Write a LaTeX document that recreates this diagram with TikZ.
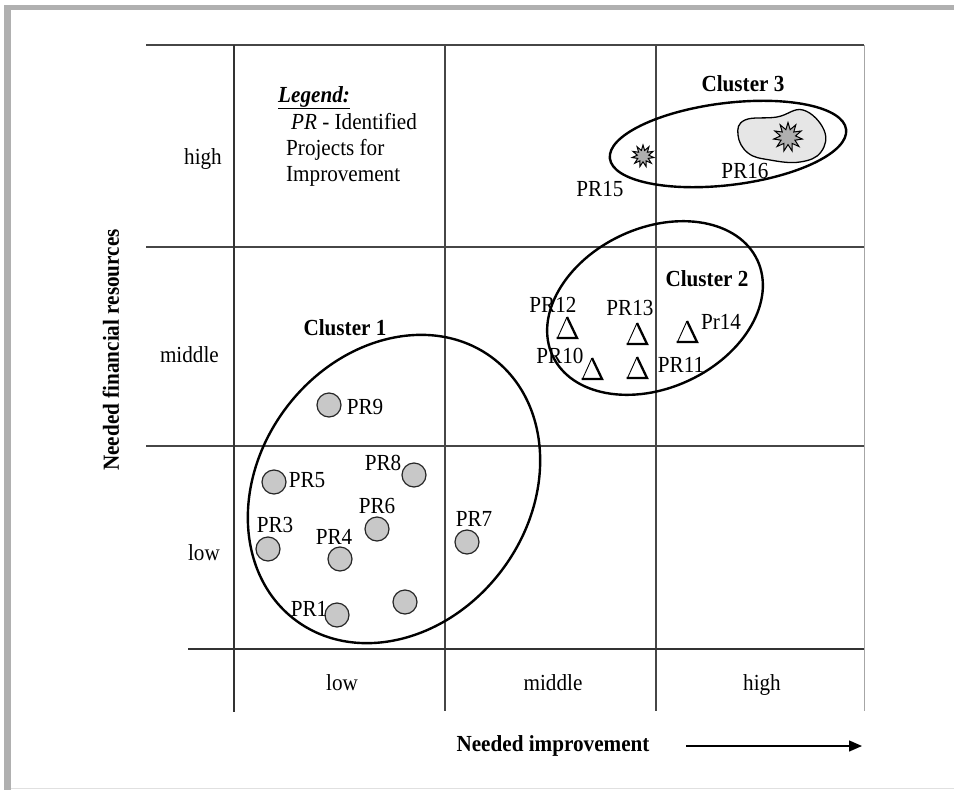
\documentclass[tikz,border=0pt]{standalone}
\usepackage{fontspec}
\setmainfont[FakeStretch=0.92]{Liberation Serif}
\usetikzlibrary{arrows.meta,shapes.geometric}
\definecolor{framegray}{RGB}{176,176,176}
\definecolor{gridgray}{RGB}{70,70,70}
\definecolor{dotfill}{RGB}{200,200,200}
\definecolor{blobfill}{RGB}{230,230,230}
\definecolor{starfill}{RGB}{175,175,175}
\begin{document}
\begin{tikzpicture}[x=1pt,y=-1pt,
  every node/.style={font=\fontsize{23}{27}\selectfont, inner sep=0pt},
  gridline/.style={draw=gridgray, line width=1.3pt},
  axisline/.style={draw=black!80, line width=2.2pt},
  cluster/.style={draw=black, line width=2.4pt},
  project/.style={circle, fill=dotfill, draw=black!85, line width=1.2pt, minimum size=24pt},
  burst/.style={star, star points=11, star point ratio=1.9, fill=starfill, draw=black, line width=1pt},
  lbl/.style={},
  clusterlbl/.style={font=\fontsize{23}{27}\selectfont\bfseries},
  axistitle/.style={font=\fontsize{23}{27}\selectfont\bfseries},
  deltamark/.pic={
    \draw[line width=0.9pt] (-9.5,10) -- (0,-11);
    \draw[line width=2.3pt, line join=miter] (0,-11) -- (10,10) -- (-10.5,10);
  }]
\useasboundingbox (0,0) rectangle (954,790);

% page frame
\fill[framegray] (4,5) rectangle (954,10);
\fill[framegray] (4,5) rectangle (11,790);
\draw[black!12, line width=0.8pt] (11,788.5) -- (954,788.5);

% grid
\draw[gridline] (146,247) -- (864,247);
\draw[gridline] (146,446) -- (864,446);
\draw[gridline] (445,45) -- (445,711);
\draw[gridline] (656,45) -- (656,711);
\draw[draw=black!35, line width=1pt] (864,45) -- (864,711);
\draw[draw=gridgray, line width=2.2pt] (146,45) -- (864,45);
\draw[axisline] (234,45) -- (234,712);
\draw[axisline] (188,649) -- (864,649);

% scale labels
\node[anchor=base east] (rhigh) at (222,164) {high};
\node[anchor=base east] (rmid) at (219,362) {middle};
\node[anchor=base east] (rlow) at (220,560) {low};
\node[anchor=base] (clow) at (342,690) {low};
\node[anchor=base] (cmid) at (553,690) {middle};
\node[anchor=base] (chigh) at (762,690) {high};

% axis titles
\node[axistitle, rotate=90] (ytitle) at (111,350) {Needed financial resources};
\node[axistitle] (xtitle) at (553,746) {Needed improvement};
\coordinate (arrowstart) at (686,746);
\coordinate (arrowend) at (862,746);
\draw[line width=1.4pt, -{Triangle[length=13pt,width=11pt]}] (arrowstart) -- (arrowend);

% legend
\node[anchor=base west] (leg1) at (278,102) {\underline{\textbf{\textit{Legend:}}}};
\node[anchor=base west] (leg2) at (291,129) {\textit{PR} - Identified};
\node[anchor=base west] (leg3) at (286,155) {Projects for};
\node[anchor=base west] (leg4) at (286,181) {Improvement};

% cluster 3
\draw[cluster, rotate around={7:(728,144)}] (728,144) ellipse [x radius=119, y radius=41];
\draw[fill=blobfill, draw=black, line width=1.3pt]
  plot[smooth cycle, tension=0.7] coordinates {(738,135) (745,120) (777,117) (803,110) (824,130) (821,152) (800,162) (770,160) (748,153)};
\node[burst, minimum size=22pt] (s15) at (643,156) {};
\node[burst, minimum size=29pt] (s16) at (788,137) {};
\node[lbl] (l15) at (600,189) {PR15};
\node[lbl] (l16) at (745,171) {PR16};
\node[clusterlbl] (c3) at (743,84) {Cluster 3};

% cluster 2
\draw[cluster, rotate around={25:(655,308)}] (655,308) ellipse [x radius=113, y radius=80];
\node[clusterlbl] (c2) at (707,279) {Cluster 2};
\pic (t12) at (567,328) {deltamark};
\pic (t13) at (637,334) {deltamark};
\pic (t14) at (687,332) {deltamark};
\pic (t10) at (592,369) {deltamark};
\pic (t11) at (637,368) {deltamark};
\node[lbl] (l12) at (553,305) {PR12};
\node[lbl] (l13) at (630,308) {PR13};
\node[lbl] (l14) at (721,322) {Pr14};
\node[lbl] (l10) at (560,356) {PR10};
\node[lbl] (l11) at (681,365) {PR11};

% cluster 1
\draw[cluster, rotate around={53:(394,489)}] (394,489) ellipse [x radius=164, y radius=135];
\node[clusterlbl] (c1) at (345,328) {Cluster 1};
\node[project] (p9) at (329,405) {};
\node[project] (p5) at (274,482) {};
\node[project] (p8) at (414,475) {};
\node[project] (p6) at (377,529) {};
\node[project] (p3) at (268,549) {};
\node[project] (p4) at (340,559) {};
\node[project] (p7) at (467,542) {};
\node[project] (p1) at (337,615) {};
\node[project] (p2) at (405,602) {};
\node[lbl] (l9) at (365,407) {PR9};
\node[lbl] (l5) at (307,480) {PR5};
\node[lbl] (l8) at (383,463) {PR8};
\node[lbl] (l6) at (377,506) {PR6};
\node[lbl] (l3) at (275,525) {PR3};
\node[lbl] (l4) at (334,537) {PR4};
\node[lbl] (l7) at (474,519) {PR7};
\node[lbl] (l1) at (309,609) {PR1};
\end{tikzpicture}
\end{document}
